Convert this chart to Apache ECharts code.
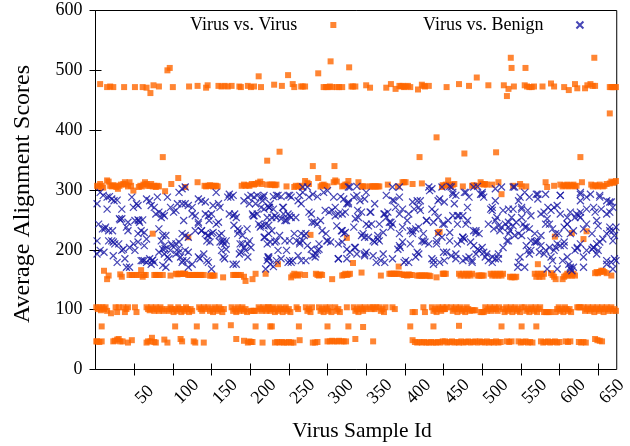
<!DOCTYPE html>
<html>
<head>
<meta charset="utf-8">
<script src="https://cdn.jsdelivr.net/npm/echarts@6/dist/echarts.min.js"></script>
<style>
  html, body { margin: 0; padding: 0; background: #fff; }
  #chart { width: 630px; height: 446px; }
</style>
</head>
<body>
<div id="chart"></div>
<script>
// Series names and axis ticks
const seriesNames = ['Virus vs. Virus', 'Virus vs. Benign'];
const xTickValues = [50, 100, 150, 200, 250, 300, 350, 400, 450, 500, 550, 600, 650];
const yTickValues = [0, 100, 200, 300, 400, 500, 600];
const sampleIdRange = [0, 674];
const scoreRange = [0, 600];

// Virus vs. Virus: [sample id, average alignment score]
const virusVsVirus = [
  [93,500],[96,504],[211,490],
  [6,477],[15,472],[19,473],[23,472],[37,472],[51,472],[61,472],[66,471],[71,462],[75,475],[82,473],[100,472],[121,473],[132,474],[143,471],[145,475],[159,474],[163,473],[167,474],[171,473],[176,474],[186,473],[188,472],[197,474],[201,472],[205,473],[214,472],
  [87,355],[222,349],
  [2,307],[4,305],[6,310],[8,307],[10,304],[15,316],[17,314],[19,307],[21,306],[23,308],[25,307],[27,305],[29,302],[31,307],[33,309],[36,310],[38,313],[40,309],[42,306],[44,313],[46,307],[49,299],[56,305],[58,307],[60,306],[62,309],[64,313],[66,310],[68,307],[70,307],[72,310],[74,306],[76,307],[78,305],[80,307],[82,306],[90,298],[98,310],[107,320],[116,305],[132,313],[141,307],[143,306],[146,307],[148,308],[150,307],[152,306],[154,307],[156,307],[158,306],[189,307],[192,309],[194,307],[197,308],[199,307],[202,310],[205,309],[207,310],[210,312],[213,314],[215,310],[222,309],
  [74,227],[120,221],
  [11,165],[15,151],[17,157],[32,159],[34,155],[44,158],[47,158],[49,158],[53,158],[56,158],[59,166],[61,155],[63,158],[65,158],[76,158],[78,158],[80,158],[83,158],[87,158],[97,157],[104,160],[106,159],[108,160],[110,160],[113,160],[114,160],[116,160],[120,158],[122,158],[125,158],[127,158],[129,158],[131,158],[133,158],[135,158],[137,158],[140,158],[148,157],[150,157],[152,157],[154,157],[165,154],[178,158],[180,158],[182,158],[185,158],[188,158],[192,155],[194,148],[203,151],[207,160],[220,160],
  [1,104],[3,101],[5,104],[7,99],[9,104],[11,101],[13,104],[15,98],[20,94],[26,104],[28,96],[30,104],[36,104],[38,96],[40,101],[42,104],[51,104],[53,96],[66,104],[68,101],[70,99],[72,104],[74,101],[76,98],[78,104],[80,101],[82,98],[84,104],[86,101],[88,98],[93,101],[95,98],[97,104],[99,101],[101,96],[103,101],[105,98],[107,104],[109,101],[111,96],[113,101],[115,98],[117,104],[119,101],[121,96],[123,101],[125,98],[134,104],[136,101],[138,98],[140,104],[142,101],[146,104],[148,98],[150,101],[152,96],[154,104],[156,101],[158,98],[160,104],[162,101],[164,96],[166,101],[176,104],[178,98],[180,101],[182,96],[184,104],[186,98],[188,101],[190,104],[192,98],[194,101],[196,96],[201,98],[203,98],[205,98],[207,98],[211,104],[213,101],[215,98],[217,104],[219,101],[221,98],[223,104],[226,101],
  [8,72],[103,72],[131,72],[155,72],[175,74],[207,72],[226,72],
  [1,47],[2,47],[5,46],[8,47],[23,47],[25,48],[28,50],[30,51],[32,47],[35,47],[42,45],[47,49],[66,45],[68,47],[71,47],[73,53],[76,46],[78,45],[89,50],[93,45],[110,51],[112,47],[127,47],[129,45],[140,45],[182,51],[192,48],[197,45],[199,47],[201,46],[203,46],[216,45],

  [249,492],[288,495],[304,515],[328,505],
  [231,476],[241,474],[255,477],[257,472],[266,473],[268,473],[271,473],[295,472],[298,472],[300,472],[303,473],[306,472],[312,472],[315,472],[319,472],[331,473],[333,473],[336,473],[350,475],[355,471],[376,471],[382,477],[388,469],[393,474],[395,473],[397,474],[399,472],[401,473],[404,474],[407,472],[417,468],[422,476],[424,474],[426,473],[431,474],
  [441,388],[419,355],[238,364],[281,340],[309,340],[288,320],
  [226,309],[228,309],[230,309],[232,308],[234,309],[247,306],[257,305],[259,307],[262,306],[264,307],[266,305],[271,315],[274,312],[276,310],[291,306],[293,308],[295,309],[297,307],[300,306],[308,313],[310,316],[312,314],[319,306],[321,307],[323,309],[325,309],[327,315],[340,313],[344,306],[346,306],[348,306],[355,306],[357,306],[359,306],[361,306],[363,306],[365,306],[367,306],[378,309],[391,306],[397,313],[399,313],[401,313],[410,310],[422,311],[448,305],
  [236,176],[278,225],[325,220],[333,178],[392,172],[443,229],[445,230],
  [253,154],[255,157],[257,160],[260,158],[262,157],[264,159],[271,158],[285,160],[287,158],[289,157],[291,159],[293,158],[306,151],[319,157],[321,158],[323,160],[325,158],[327,159],[329,160],[344,162],[369,157],[380,160],[382,160],[384,160],[386,160],[388,160],[390,160],[393,160],[397,159],[399,158],[401,158],[403,157],[405,159],[407,158],[409,158],[416,157],[418,157],[420,157],[422,157],[424,157],[426,157],[428,157],[431,157],[433,156],[441,154],[450,160],
  [224,104],[226,98],[228,101],[230,104],[232,96],[234,101],[236,98],[238,104],[240,101],[242,96],[244,101],[246,104],[248,98],[250,101],[252,96],[260,104],[262,101],[272,104],[274,98],[276,101],[278,96],[280,104],[289,104],[291,98],[293,101],[295,96],[297,104],[299,101],[301,98],[303,104],[305,96],[310,104],[312,98],[314,101],[316,96],[325,104],[334,104],[336,98],[338,101],[340,96],[342,104],[344,101],[346,98],[348,104],[350,101],[355,104],[357,101],[359,104],[361,101],[363,104],[367,104],[369,98],[371,101],[373,96],[375,104],[384,104],[387,101],[410,96],[413,96],[424,104],[426,96],[435,104],[437,98],[439,101],[441,96],[443,104],[445,101],[447,98],[449,104],[451,101],
  [228,72],[263,72],[300,72],[327,72],[346,71],[407,72],[437,72],
  [232,45],[235,46],[238,45],[241,46],[244,45],[247,45],[250,46],[253,45],[256,45],[264,49],[281,45],[284,45],[287,46],[300,47],[303,47],[306,48],[309,47],[312,47],[315,48],[318,47],[321,47],[324,47],[336,51],[359,47],[410,49],[413,46],[416,45],[419,46],[422,45],[425,46],[428,45],[431,45],[434,46],[437,45],[440,45],[443,46],[446,45],

  [537,521],[538,504],[556,504],[645,521],[493,488],[532,457],[665,428],
  [477,361],[518,363],[627,355],
  [454,472],[470,477],[483,474],[508,475],[528,475],[534,469],[541,473],[555,475],[558,473],[561,472],[564,472],[567,473],[578,473],[589,478],[593,473],[606,472],[612,467],[620,477],[623,470],[633,470],[636,475],[640,477],[643,474],[646,474],[665,472],[667,472],[669,472],[671,472],[673,472],
  [449,308],[451,307],[453,309],[456,316],[458,308],[460,307],[462,309],[464,310],[475,306],[487,307],[489,308],[492,307],[498,313],[500,310],[502,309],[504,310],[506,309],[513,309],[521,313],[525,293],[540,307],[549,310],[551,306],[557,306],[582,313],[584,305],[593,307],[601,309],[604,306],[606,308],[608,307],[610,309],[612,306],[614,308],[616,307],[618,309],[620,306],[622,307],[629,313],[641,309],[643,306],[646,308],[648,307],[650,306],[652,309],[656,306],[658,307],[661,310],[665,311],[667,314],[669,312],[671,313],[673,315],
  [594,222],[616,228],[635,231],[631,218],[572,176],
  [449,160],[451,160],[453,160],[470,160],[472,157],[475,160],[477,157],[479,160],[481,157],[483,160],[485,157],[487,160],[494,157],[496,157],[498,157],[500,157],[502,157],[511,160],[513,157],[515,160],[517,157],[519,160],[521,157],[523,160],[525,157],[527,160],[536,155],[538,154],[540,155],[542,154],[544,155],[568,160],[570,155],[572,160],[574,155],[576,160],[578,155],[580,160],[589,161],[591,158],[593,155],[595,151],[604,151],[606,155],[608,157],[610,160],[612,157],[614,160],[616,157],[618,160],[620,157],[646,161],[648,163],[650,161],[652,163],[654,165],[656,165],[658,163],[661,161],[667,157],
  [449,101],[452,101],[454,104],[460,104],[462,98],[464,101],[466,104],[468,96],[470,101],[472,104],[474,98],[476,101],[478,96],[480,104],[482,101],[484,98],[487,99],[489,99],[491,99],[498,96],[500,96],[502,96],[504,104],[506,98],[508,101],[510,104],[512,98],[514,101],[516,104],[518,101],[520,98],[522,104],[527,101],[529,96],[531,104],[533,98],[535,101],[537,104],[539,96],[541,101],[543,104],[545,98],[547,101],[549,96],[551,104],[555,104],[557,98],[559,101],[561,96],[563,104],[565,101],[567,98],[569,104],[571,96],[573,101],[575,104],[580,96],[582,96],[584,96],[586,96],[588,96],[595,96],[597,101],[599,104],[601,98],[603,101],[605,96],[607,104],[609,101],[611,98],[613,101],[615,96],[623,104],[625,104],[627,104],[631,104],[633,98],[635,101],[637,104],[639,98],[641,101],[643,104],[645,96],[647,101],[649,104],[651,98],[653,101],[655,104],[657,96],[659,101],[661,104],[663,98],[665,101],[667,104],[669,98],[671,101],[673,98],
  [470,73],[525,72],[551,72],[570,72],
  [449,47],[452,47],[455,45],[458,46],[461,47],[464,45],[467,46],[470,45],[473,47],[476,45],[479,46],[482,47],[485,45],[488,46],[491,47],[494,45],[497,47],[500,46],[503,45],[506,47],[509,45],[512,46],[515,45],[518,47],[521,45],[524,46],[532,47],[535,46],[538,47],[547,47],[550,45],[553,46],[556,47],[559,45],[562,46],[565,45],[576,47],[579,45],[582,46],[585,47],[588,45],[591,46],[594,47],[597,45],[600,46],[608,47],[611,46],[614,47],[625,46],[628,45],[631,46],[634,45],[646,51],[649,49],[652,48],[655,47]
];

// Virus vs. Benign: [sample id, average alignment score]
const virusVsBenign = [
  [2,277],[6,296],[10,291],[15,288],[18,289],[21,285],[24,282],[28,283],[15,268],[2,215],[4,243],[9,235],[13,238],[17,232],[21,215],[23,213],[6,199],[2,193],[11,196],[17,215],[25,210],[23,190],[28,179],[34,199],[36,201],[38,185],[40,171],[44,171],[42,246],[40,238],[42,232],[34,252],[32,250],[30,210],[34,268],[47,288],[49,271],[53,277],[55,274],[51,249],[55,250],[57,246],[61,250],[59,232],[55,227],[63,229],[66,218],[63,207],[55,213],[49,210],[51,199],[59,182],[61,182],[66,179],[70,185],[74,183],[76,179],[72,176],[66,285],[70,282],[72,274],[76,271],[80,288],[78,260],[82,263],[87,260],[85,254],[89,257],[82,235],[87,224],[91,224],[85,215],[89,207],[87,201],[82,196],[89,193],[93,188],[95,185],[87,174],[91,171],[93,288],[97,271],[101,263],[104,266],[106,277],[108,296],[112,302],[116,305],[112,277],[116,277],[120,274],[125,271],[114,249],[112,227],[116,224],[108,213],[104,210],[99,207],[97,199],[104,193],[108,196],[110,188],[116,199],[120,196],[118,182],[112,179],[125,176],[120,171],[129,232],[133,246],[125,260],[129,257],[133,285],[137,282],[142,280],[133,243],[137,232],[142,227],[146,224],[150,227],[144,215],[148,213],[140,193],[133,188],[135,185],[144,182],[146,179],[150,168],[142,260],[146,257],[150,260],[152,274],[156,296],[159,277],[161,271],[156,243],[159,246],[152,229],[163,227],[165,215],[161,213],[167,210],[169,201],[163,199],[165,188],[167,185],[171,288],[173,293],[175,288],[178,291],[173,260],[178,257],[180,260],[182,254],[184,235],[186,232],[184,227],[190,224],[190,210],[192,204],[194,199],[188,196],[186,193],[178,176],[182,176],[192,282],[197,288],[201,291],[205,288],[209,291],[214,288],[218,291],[216,282],[207,277],[199,277],[203,260],[205,257],[209,260],[214,271],[218,268],[211,243],[214,240],[218,240],[220,243],[222,254],[224,271],[226,277],[218,221],[222,210],[224,188],[222,182],[220,168],[226,213],[197,210],[199,215],[201,204],[197,188],
  [12,235],[22,232],[31,252],[44,204],[56,249],[63,182],[73,182],[90,202],[98,210],[107,202],[113,182],[120,221],[137,232],[145,224],[147,249],[160,224],[164,213],[169,215],[179,241],[187,210],[196,235],[204,257],[213,238],

  [230,289],[236,291],[240,289],[224,271],[230,268],[243,271],[249,291],[253,288],[264,291],[268,296],[266,277],[262,282],[274,305],[276,288],[281,293],[287,289],[295,296],[300,299],[308,288],[317,289],[321,285],[329,305],[327,280],[334,288],[338,291],[342,282],[350,296],[348,285],[361,277],[376,291],[384,283],[393,288],[388,271],[397,268],[410,280],[416,282],[420,266],[418,271],[431,305],[435,302],[443,282],[448,305],[445,285],[224,227],[228,254],[234,254],[240,252],[247,249],[249,260],[253,254],[232,213],[236,199],[238,224],[245,215],[240,185],[249,179],[253,179],[247,199],[257,227],[260,215],[264,213],[266,227],[268,215],[270,224],[264,210],[262,190],[266,182],[272,182],[274,207],[279,201],[281,190],[285,193],[287,199],[289,201],[276,263],[279,260],[283,246],[287,243],[291,249],[293,232],[298,227],[300,215],[304,213],[302,263],[306,266],[310,271],[314,260],[319,260],[323,263],[325,277],[312,240],[319,232],[323,229],[321,227],[314,210],[319,213],[325,201],[329,196],[336,204],[338,193],[325,185],[314,185],[334,238],[336,252],[340,254],[344,263],[355,263],[350,243],[353,240],[357,243],[346,227],[344,224],[353,221],[359,215],[361,213],[365,224],[367,215],[372,229],[367,243],[376,254],[380,246],[384,243],[374,260],[378,263],[382,246],[350,196],[348,190],[359,190],[363,179],[372,193],[374,179],[384,185],[393,227],[393,207],[391,201],[397,213],[401,182],[405,179],[407,210],[410,227],[410,232],[414,235],[418,238],[422,215],[424,227],[426,213],[431,210],[416,196],[418,193],[414,188],[405,260],[412,268],[393,260],[397,238],[435,268],[439,263],[443,254],[437,246],[443,227],[448,221],[441,215],[450,196],[435,185],[437,176],[445,179],[224,185],[226,176],[230,172],[234,182],[224,241],[228,232],[232,257],[243,260],[245,249],[251,257],[255,182],[268,305],[327,305],[338,306],[384,305],[393,305],
  [217,288],[234,291],[251,291],[225,271],[242,271],[259,254],[280,246],[297,266],[310,257],[327,277],[339,266],[356,263],[373,260],[386,282],[403,249],[420,282],[428,249],[219,221],[234,215],[251,215],[272,227],[289,210],[299,215],[318,232],[335,204],[348,221],[365,218],[382,238],[394,204],[407,232],[424,215],[223,188],[251,182],[284,188],[314,185],[348,193],[369,182],[399,179],

  [451,280],[458,306],[462,296],[466,291],[460,305],[464,277],[477,296],[483,288],[489,305],[494,306],[498,293],[502,288],[500,296],[517,302],[525,305],[540,305],[542,305],[549,288],[547,282],[555,296],[561,288],[570,293],[572,285],[582,293],[601,291],[627,293],[627,282],[635,288],[640,293],[652,291],[661,282],[667,280],[669,271],[654,268],[644,271],[635,268],[646,263],[661,260],[665,263],[627,263],[625,257],[627,254],[620,254],[614,263],[610,254],[601,260],[597,274],[593,271],[589,266],[585,271],[580,263],[576,260],[563,257],[559,266],[551,268],[540,268],[538,254],[534,268],[527,266],[513,271],[511,268],[519,254],[517,249],[508,243],[521,240],[525,238],[530,243],[534,238],[536,232],[540,240],[544,246],[551,254],[553,243],[557,238],[561,235],[547,227],[551,224],[542,224],[532,215],[527,204],[534,227],[523,232],[515,235],[492,229],[496,227],[489,232],[481,271],[475,257],[468,257],[462,257],[456,249],[451,243],[468,243],[479,243],[481,249],[458,229],[475,221],[473,215],[468,210],[477,218],[485,213],[489,207],[494,201],[500,204],[502,196],[506,193],[504,188],[508,182],[513,179],[517,185],[521,185],[492,193],[487,182],[483,188],[479,185],[475,182],[466,193],[460,190],[454,196],[451,182],[549,188],[547,179],[555,171],[561,193],[563,199],[568,213],[572,215],[576,207],[574,196],[580,193],[582,199],[587,204],[589,188],[595,204],[597,210],[601,207],[606,213],[591,182],[597,168],[604,182],[610,188],[612,176],[614,168],[616,165],[618,171],[620,199],[623,204],[627,210],[631,188],[635,199],[642,201],[644,204],[648,210],[652,213],[656,218],[661,227],[665,232],[669,215],[671,224],[673,238],[648,193],[650,199],[661,176],[667,179],[669,168],[671,185],[673,182],[582,243],[587,243],[591,235],[595,227],[599,227],[606,238],[610,243],[614,227],[618,232],[631,235],[635,243],[642,227],[650,240],[665,238],[563,215],[557,207],[568,227],[576,224],
  [432,299],[462,293],[479,296],[500,293],[517,282],[551,271],[572,293],[601,291],[627,296],[652,288],[665,280],[428,249],[449,243],[470,257],[492,232],[513,266],[534,246],[555,238],[584,252],[610,243],[622,260],[648,249],[669,232],[441,210],[458,215],[475,221],[496,199],[521,193],[534,215],[559,199],[570,213],[593,199],[606,207],[623,202],[644,204],[661,182],[437,182],[466,185],[487,179],[513,188],[546,171],[584,168],[614,171],[631,171]
];

const SERIF = '"Liberation Serif", "Times New Roman", serif';
const chart = echarts.init(document.getElementById('chart'), null, { renderer: 'canvas' });

const innerTick = (values) => ({
  show: true, inside: true, length: 6, customValues: values,
  lineStyle: { color: '#000', width: 1 }
});

chart.setOption({
  animation: false,
  backgroundColor: '#fff',
  grid: {
    left: 95.5, right: 3, top: 10.5, bottom: 76.5,
    show: true, borderColor: '#000', borderWidth: 1, backgroundColor: 'transparent'
  },
  xAxis: [
    {
      type: 'value', min: sampleIdRange[0], max: sampleIdRange[1], position: 'bottom',
      axisLine: { show: false }, splitLine: { show: false },
      axisTick: innerTick(xTickValues),
      axisLabel: {
        customValues: xTickValues, rotate: 45, align: 'left', verticalAlign: 'middle',
        margin: 36, padding: [0, 0, 0, 6], fontFamily: SERIF, fontSize: 18, color: '#000'
      }
    },
    {
      type: 'value', min: sampleIdRange[0], max: sampleIdRange[1], position: 'top',
      axisLine: { show: false }, splitLine: { show: false },
      axisTick: innerTick(xTickValues), axisLabel: { show: false }
    }
  ],
  yAxis: [
    {
      type: 'value', min: scoreRange[0], max: scoreRange[1], position: 'left',
      axisLine: { show: false }, splitLine: { show: false },
      axisTick: innerTick(yTickValues),
      axisLabel: { customValues: yTickValues, margin: 13, fontFamily: SERIF, fontSize: 18, color: '#000' }
    },
    {
      type: 'value', min: scoreRange[0], max: scoreRange[1], position: 'right',
      axisLine: { show: false }, splitLine: { show: false },
      axisTick: innerTick(yTickValues), axisLabel: { show: false }
    }
  ],
  legend: [
    {
      data: [seriesNames[0]], left: 190, top: 16, padding: 0, align: 'right',
      itemWidth: 6, itemHeight: 6, selectedMode: false,
      textStyle: { fontFamily: SERIF, fontSize: 18, color: '#000', padding: [0, 28, 0, 0] }
    },
    {
      data: [seriesNames[1]], left: 423, top: 16, padding: 0, align: 'right',
      itemWidth: 7, itemHeight: 7, selectedMode: false,
      textStyle: { fontFamily: SERIF, fontSize: 18, color: '#000', padding: [0, 28, 0, 0] }
    }
  ],
  graphic: [
    {
      type: 'text', x: 23, y: 194, rotation: Math.PI / 2, silent: true,
      style: { text: 'Average Alignment Scores', font: '24px ' + SERIF, fill: '#000', align: 'center', verticalAlign: 'middle' }
    },
    {
      type: 'text', x: 362, y: 431, silent: true,
      style: { text: 'Virus Sample Id', font: '21.5px ' + SERIF, fill: '#000', align: 'center', verticalAlign: 'middle' }
    }
  ],
  series: [
    {
      type: 'scatter', name: seriesNames[0], data: virusVsVirus,
      symbol: 'rect', symbolSize: 6, silent: true, z: 2,
      itemStyle: { color: '#ff6600' }
    },
    {
      type: 'scatter', name: seriesNames[1], data: virusVsBenign,
      symbol: 'path://M0 0L10 10M10 0L0 10', symbolSize: 7, silent: true, z: 3,
      itemStyle: { color: 'none', borderColor: '#1818a4', borderWidth: 1.25 }
    }
  ]
});
</script>
</body>
</html>
